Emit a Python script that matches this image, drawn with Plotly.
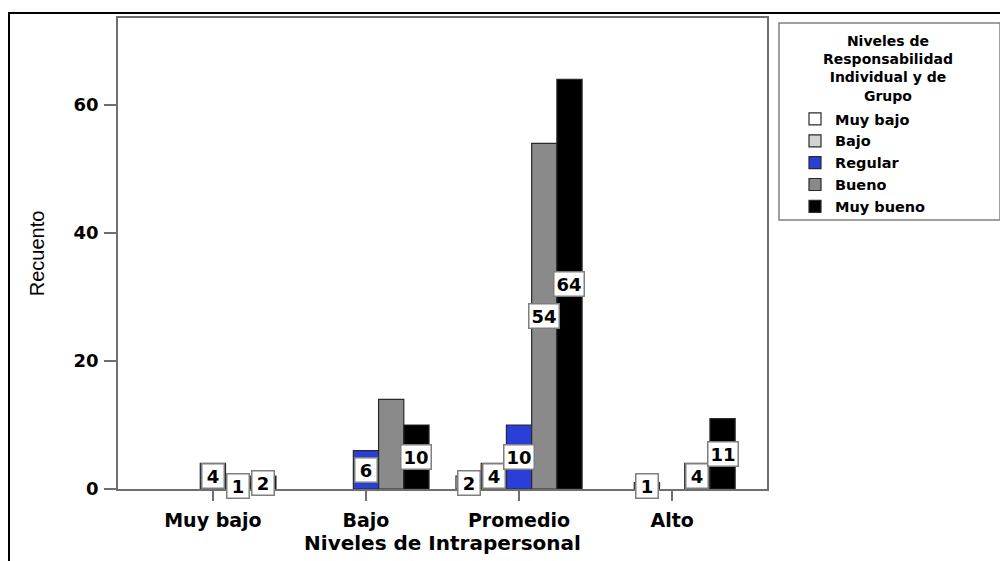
import plotly.graph_objects as go

# ---- data ----
categories = ["Muy bajo", "Bajo", "Promedio", "Alto"]
series_names = ["Muy bajo", "Bajo", "Regular", "Bueno", "Muy bueno"]
muy_bajo = [None, None, 2, None]
bajo = [None, None, 4, 1]
regular = [4, 6, 10, None]
bueno = [1, 14, 54, 4]
muy_bueno = [2, 10, 64, 11]
series_values = [muy_bajo, bajo, regular, bueno, muy_bueno]
y_ticks = [0, 20, 40, 60]
legend_title = "Niveles de<br>Responsabilidad<br>Individual y de<br>Grupo"
# value labels the original chart does not show (series, category)
hidden_labels = {("Bueno", "Bajo")}

# ---- styles ----
colors = ["#ffffff", "#d3d3d3", "#2a3fd8", "#8a8a8a", "#000000"]
BOLD = "DejaVu Sans"
axis_col = "#6f6f6f"
bargap = 0.176

# page body has an 8px margin: build the figure 8px smaller and shifted
OFF = 8
W, H = 1008 - OFF, 561 - OFF
# plot area in reference-image pixels
L_ref, R_ref, T_ref, B_ref = 118, 767, 18, 489
L, R, T, B = L_ref - OFF, R_ref - OFF, T_ref - OFF, B_ref - OFF


def px_x(X):
    return (X - L_ref) / (R_ref - L_ref)


def px_y(Y):
    return (B_ref - Y) / (B_ref - T_ref)


fig = go.Figure()
for name, vals, col in zip(series_names, series_values, colors):
    fig.add_trace(go.Bar(
        name=name, x=categories, y=vals,
        marker=dict(color=col, line=dict(color="#2a2a2a", width=1.2)),
    ))

# value labels in white boxes at bar middles
n = len(series_names)
group = 1 - bargap
bw = group / n
annotations = []
for j, (sname, vals) in enumerate(zip(series_names, series_values)):
    off = -group / 2 + (j + 0.5) * bw
    for i, v in enumerate(vals):
        if v is None or (sname, categories[i]) in hidden_labels:
            continue
        txt = str(v)
        annotations.append(dict(
            x=i + off, y=v / 2, xref="x", yref="y", text=txt,
            showarrow=False, xanchor="center", yanchor="middle",
            font=dict(family=BOLD, size=18, color="black", weight="bold"),
            bgcolor="white", bordercolor="#7f7f7f", borderwidth=1.5,
            borderpad=1, width=19 if len(txt) == 1 else 27, height=21,
        ))

# legend title, each line centred
annotations.append(dict(
    x=px_x(888), y=px_y(31), xref="paper", yref="paper",
    xanchor="center", yanchor="top", showarrow=False, align="center",
    text=legend_title,
    font=dict(family=BOLD, size=14, color="black", weight="bold"),
))

shapes = [
    # outer frame (cut off at right/bottom)
    dict(type="rect", xref="paper", yref="paper",
         x0=px_x(9), x1=px_x(1030), y0=px_y(600), y1=px_y(13),
         line=dict(color="black", width=2), fillcolor="rgba(0,0,0,0)", layer="above"),
    # legend box
    dict(type="rect", xref="paper", yref="paper",
         x0=px_x(779), x1=px_x(1000), y0=px_y(220), y1=px_y(23),
         line=dict(color="#808080", width=1.5), fillcolor="rgba(0,0,0,0)", layer="above"),
]

fig.update_layout(
    width=W, height=H,
    barmode="group", bargap=bargap, bargroupgap=0,
    paper_bgcolor="white", plot_bgcolor="white",
    margin=dict(l=L, r=W - R, t=T, b=H - B, autoexpand=False),
    showlegend=True,
    legend=dict(
        x=px_x(795), xanchor="left", y=px_y(103), yanchor="top",
        bgcolor="rgba(0,0,0,0)", borderwidth=0,
        font=dict(family=BOLD, size=14.5, color="black", weight="bold"),
        traceorder="normal",
    ),
    xaxis=dict(
        type="category", range=[-0.62, 3.62],
        showline=True, linecolor=axis_col, linewidth=1.5, mirror=True,
        ticks="outside", ticklen=10, tickwidth=1.5, tickcolor=axis_col,
        ticklabelstandoff=3,
        showgrid=False, zeroline=False,
        tickfont=dict(family=BOLD, size=19, color="black", weight="bold"),
        title=dict(text="Niveles de Intrapersonal", standoff=6,
                   font=dict(family=BOLD, size=20, color="black", weight="bold")),
    ),
    yaxis=dict(
        range=[0, 73.6], tickmode="array", tickvals=y_ticks,
        showline=True, linecolor=axis_col, linewidth=1.5, mirror=True,
        ticks="outside", ticklen=12, tickwidth=1.5, tickcolor=axis_col,
        ticklabelstandoff=2,
        showgrid=False, zeroline=False,
        tickfont=dict(family=BOLD, size=18, color="black", weight="bold"),
        title=dict(text="Recuento", standoff=24,
                   font=dict(family="Liberation Sans Narrow, Liberation Sans, Arial", size=20, color="black")),
    ),
    annotations=annotations,
    shapes=shapes,
)

fig.write_html("out.html")
